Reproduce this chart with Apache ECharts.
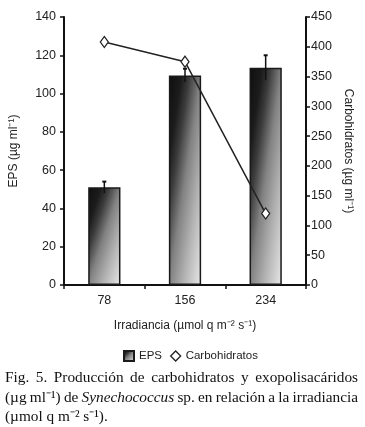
<!DOCTYPE html>
<html>
<head>
<meta charset="utf-8">
<script src="https://cdn.jsdelivr.net/npm/echarts@6/dist/echarts.min.js"></script>
<style>html,body{margin:0;padding:0;background:#fff;}#c{width:365px;height:427px;}</style>
</head>
<body>
<div id="c"></div>
<script>
// ---- data ----
var categories = ['78', '156', '234'];
var epsValues = [51, 109.5, 113.5];
var epsErrors = [3, 3.5, 6.5];
var carboValues = [408, 375, 120];
var captionLines = [
  [['Fig.', 0], ['5.', 0], ['Producción', 0], ['de', 0], ['carbohidratos', 0], ['y', 0], ['exopolisacáridos', 0]],
  [['(µg', 0], ['ml⁻¹)', 0], ['de', 0], ['Synechococcus', 1], ['sp.', 0], ['en', 0], ['relación', 0], ['a', 0], ['la', 0], ['irradiancia', 0]],
  [['(µmol', 0], ['q', 0], ['m⁻²', 0], ['s⁻¹).', 0]]
];

var chart = echarts.init(document.getElementById('c'), null, {renderer: 'canvas'});
var sans = '"Liberation Sans", Arial, sans-serif';
var serif = '"Liberation Serif", "Times New Roman", serif';
var txt = '#222';
var BAR_RATIO = 0.4;

var gradStops = [
  {offset: 0, color: '#0e0e0e'},
  {offset: 0.2, color: '#1c1c1c'},
  {offset: 0.32, color: '#3c3c3c'},
  {offset: 0.5, color: '#828282'},
  {offset: 0.72, color: '#b2b2b2'},
  {offset: 1, color: '#e8e8e8'}
];
// diagonal gradient whose isolines run corner to corner of the bar (r = width/height in px)
function barGrad(r) {
  var r2 = r * r;
  return new echarts.graphic.LinearGradient(0, 0, 2 / (1 + r2), 2 * r2 / (1 + r2), gradStops);
}

// caption justified layout
var ctx = document.createElement('canvas').getContext('2d');
var capFont = 15.3;
var graphics = [];
var capLeft = 5, capRight = 358, capY = [379, 399, 418];
captionLines.forEach(function (line, li) {
  var widths = line.map(function (w) {
    ctx.font = (w[1] ? 'italic ' : '') + capFont + 'px ' + serif;
    return ctx.measureText(w[0]).width;
  });
  var total = widths.reduce(function (a, b) { return a + b; }, 0);
  var gap = li < 2 ? (capRight - capLeft - total) / (line.length - 1) : capFont * 0.25;
  var x = capLeft;
  line.forEach(function (w, i) {
    graphics.push({
      type: 'text', left: x, top: capY[li] - 9,
      style: {text: w[0], font: (w[1] ? 'italic ' : '') + capFont + 'px ' + serif, fill: '#111'}
    });
    x += widths[i] + gap;
  });
});

var option = {
  backgroundColor: '#fff',
  animation: false,
  textStyle: {fontFamily: sans, color: txt},
  grid: {left: 60, right: 59, top: 17, bottom: 142, containLabel: false},
  legend: {
    top: 345, left: 118, itemGap: 8, itemWidth: 10, itemHeight: 10,
    textStyle: {fontFamily: sans, fontSize: 11.5, color: txt},
    data: [
      {name: 'EPS', icon: 'rect'},
      {name: 'Carbohidratos', icon: 'diamond', itemStyle: {color: '#fff', borderColor: '#222', borderWidth: 1.3}}
    ]
  },
  xAxis: {
    type: 'category', data: categories, boundaryGap: true,
    name: 'Irradiancia (µmol q m⁻² s⁻¹)', nameLocation: 'middle', nameGap: 35,
    nameTextStyle: {fontSize: 12, color: txt, fontFamily: sans},
    axisLine: {lineStyle: {color: '#111', width: 2}},
    axisTick: {show: true, length: 4, lineStyle: {color: '#111', width: 1.5}},
    axisLabel: {fontSize: 12.5, color: txt, margin: 9}
  },
  yAxis: [
    {
      type: 'value', min: 0, max: 140, interval: 20,
      name: 'EPS (µg ml⁻¹)', nameLocation: 'middle', nameGap: 44,
      nameTextStyle: {fontSize: 12, color: txt, fontFamily: sans},
      axisLine: {show: true, lineStyle: {color: '#111', width: 2}},
      axisTick: {show: true, length: 4, lineStyle: {color: '#111', width: 1.5}},
      axisLabel: {fontSize: 12.5, color: txt, margin: 8},
      splitLine: {show: false}
    },
    {
      type: 'value', min: 0, max: 450, interval: 50, position: 'right',
      name: 'Carbohidratos (µg ml⁻¹)', nameLocation: 'middle', nameGap: 36, nameRotate: -90,
      nameTextStyle: {fontSize: 12, color: txt, fontFamily: sans},
      axisLine: {show: true, lineStyle: {color: '#111', width: 2}},
      axisTick: {show: true, length: 4, lineStyle: {color: '#111', width: 1.5}},
      axisLabel: {fontSize: 12.5, color: txt, margin: 5},
      splitLine: {show: false}
    }
  ],
  series: [
    {
      name: 'EPS', type: 'bar', barWidth: (BAR_RATIO * 100) + '%', yAxisIndex: 0,
      data: epsValues.slice(),
      itemStyle: {color: barGrad(1), borderColor: '#1a1a1a', borderWidth: 1.5}
    },
    {
      name: 'EPSerr', type: 'custom', yAxisIndex: 0, z: 5,
      data: epsValues.map(function (v, i) { return [i, v, epsErrors[i]]; }),
      renderItem: function (params, api) {
        var x = api.value(0), v = api.value(1), e = api.value(2);
        var top = api.coord([x, v + e]);
        var bot = api.coord([x, v - e]);
        var hw = 2;
        return {
          type: 'group', children: [
            {type: 'line', shape: {x1: top[0], y1: top[1], x2: bot[0], y2: bot[1]}, style: {stroke: '#111', lineWidth: 1.5}},
            {type: 'line', shape: {x1: top[0] - hw, y1: top[1], x2: top[0] + hw, y2: top[1]}, style: {stroke: '#111', lineWidth: 2}}
          ]
        };
      }
    },
    {
      name: 'Carbohidratos', type: 'line', yAxisIndex: 1, data: carboValues, z: 10,
      symbol: 'diamond', symbolSize: [8, 11],
      lineStyle: {color: '#222', width: 1.5},
      itemStyle: {color: '#fff', borderColor: '#222', borderWidth: 1.3}
    }
  ],
  graphic: graphics
};
chart.setOption(option);

// per-bar gradient using pixel geometry from the library's scales
var c0 = chart.convertToPixel({xAxisIndex: 0}, categories[0]);
var c1 = chart.convertToPixel({xAxisIndex: 0}, categories[1]);
var barW = Math.abs(c1 - c0) * BAR_RATIO;
var newData = epsValues.map(function (v) {
  var h = Math.abs(chart.convertToPixel({yAxisIndex: 0}, 0) - chart.convertToPixel({yAxisIndex: 0}, v));
  return {value: v, itemStyle: {color: barGrad(barW / h)}};
});
chart.setOption({series: [{name: 'EPS', data: newData}]});
</script>
</body>
</html>
